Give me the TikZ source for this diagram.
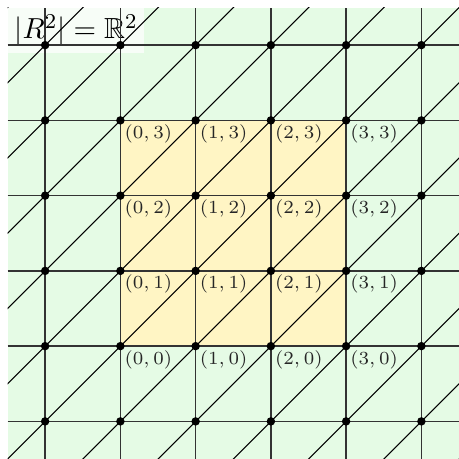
\documentclass[tikz,border=0pt]{standalone}
\usepackage{amssymb}
\usetikzlibrary{positioning}
\definecolor{latticegreen}{RGB}{229,251,229}
\definecolor{cellyellow}{RGB}{255,245,196}

\begin{document}
\begin{tikzpicture}[
    gridline/.style={black!80, line width=0.5pt},
    diagline/.style={black, line width=0.4pt},
    vertex/.style={circle, fill=black, inner sep=0pt, minimum size=3.2pt},
    coordlabel/.style={font=\fontsize{7.1}{8.5}\selectfont, text=black!85, anchor=north west, inner sep=1.4pt},
    title/.style={fill=white, fill opacity=0.7, text opacity=1, anchor=north west,
        font=\fontsize{11}{13}\selectfont, inner sep=2.5pt}
]
\useasboundingbox (-1.6,-1.5) rectangle (4.5,4.6);

% Background of the plane and the unit square block
\fill[latticegreen] (-1.5,-1.5) rectangle (4.5,4.5);
\fill[cellyellow] (0,0) rectangle (3,3);

\node[title] (name) at (-1.5,4.5) {$|R^2|=\mathbb{R}^2$};

\begin{scope}
    \clip (-1.5,-1.5) rectangle (4.5,4.5);
    % Horizontal and vertical lines
    \foreach \k in {-1,...,4} {
        \draw[gridline] (-1.5,\k) -- (4.5,\k);
        \draw[gridline] (\k,-1.5) -- (\k,4.5);
    }
    % Diagonals of slope one
    \foreach \k in {-6,...,6} {
        \draw[diagline] (-2,-2+\k) -- (5,5+\k);
    }
\end{scope}

% Lattice points
\foreach \x in {-1,...,4} {
    \foreach \y in {-1,...,4} {
        \node[vertex] (v\x\y) at (\x,\y) {};
    }
}

% Labels of the points in the block
\foreach \x in {0,...,3} {
    \foreach \y in {0,...,3} {
        \node[coordlabel] (l\x\y) at (v\x\y.center) {$(\x,\y)$};
    }
}

\end{tikzpicture}
\end{document}
